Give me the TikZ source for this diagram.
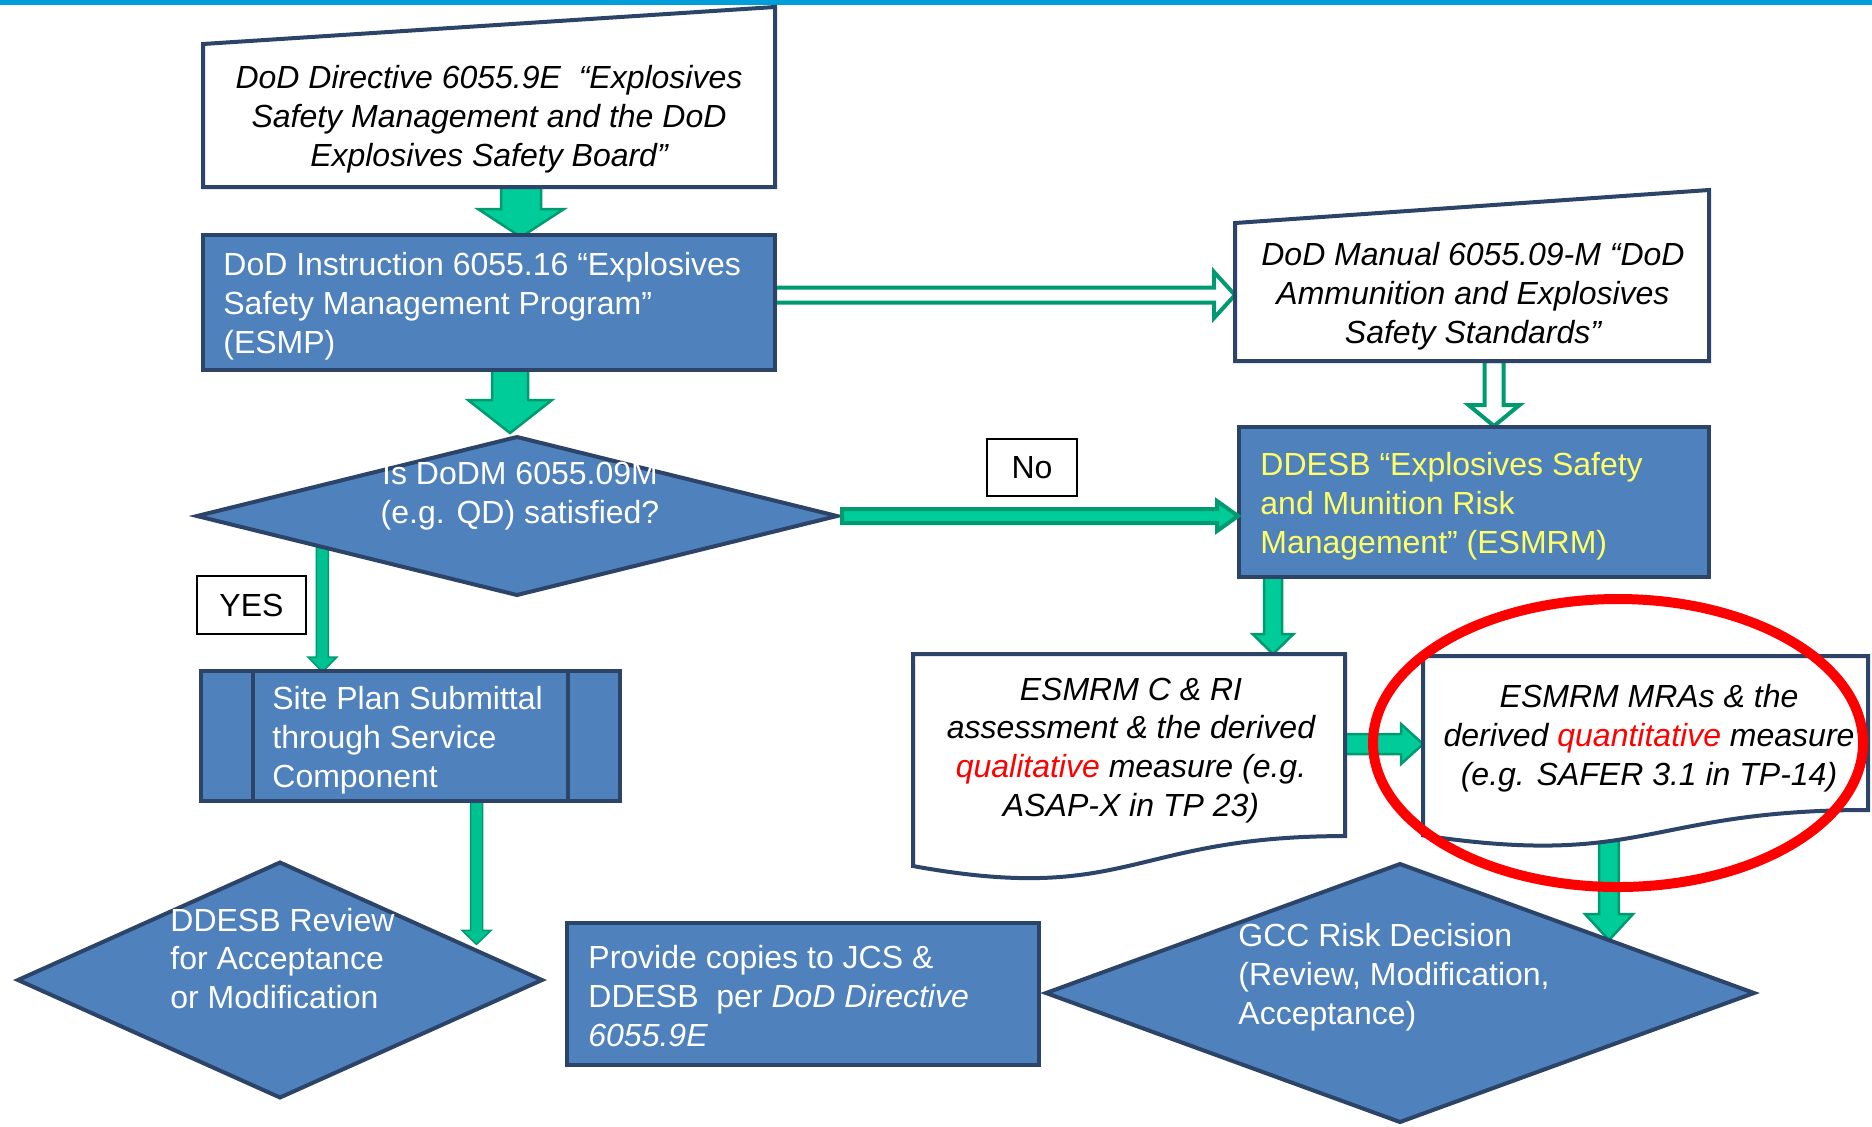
\documentclass[tikz,border=0pt]{standalone}
\usepackage{fontspec}
\setmainfont{Liberation Sans}
\usetikzlibrary{shapes.geometric,calc,backgrounds}
\definecolor{boxblue}{HTML}{4F81BD}
\definecolor{edge}{HTML}{2B4468}
\definecolor{gfill}{HTML}{00CC99}
\definecolor{gline}{HTML}{009A70}
\definecolor{ytext}{HTML}{FFFF66}
\definecolor{topblue}{HTML}{009FDA}
% vertical (downward) block arrow: style, start, tip, shaft half, head half, head length
\newcommand\vblock[6]{\path[#1] let \p1=#2, \p2=#3 in
  (\x1-#4,\y1) -- (\x1+#4,\y1) -- (\x1+#4,\y2+#6) -- (\x1+#5,\y2+#6) -- (\x1,\y2)
  -- (\x1-#5,\y2+#6) -- (\x1-#4,\y2+#6) -- cycle;}
% horizontal (rightward) block arrow
\newcommand\hblock[6]{\path[#1] let \p1=#2, \p2=#3 in
  (\x1,\y1+#4) -- (\x2-#6,\y1+#4) -- (\x2-#6,\y1+#5) -- (\x2,\y1) -- (\x2-#6,\y1-#5)
  -- (\x2-#6,\y1-#4) -- (\x1,\y1-#4) -- cycle;}
\begin{document}
\begin{tikzpicture}[x=0.5pt,y=-0.5pt,
  ghost/.style={rectangle,inner sep=0,outer sep=0},
  bluebox/.style={rectangle,inner sep=0,outer sep=0,fill=boxblue,draw=edge,line width=2pt},
  dia/.style={diamond,inner sep=0,outer sep=0,fill=boxblue,draw=edge,line width=2pt,line join=miter},
  whitebox/.style={fill=white,draw=edge,line width=2pt,line join=miter},
  edgeline/.style={draw=edge,line width=2pt},
  tag/.style={rectangle,draw=black,line width=0.75pt,fill=white,inner sep=0,font=\fontsize{16}{19.4}\selectfont},
  txt/.style={inner sep=0,font=\fontsize{16}{19.4}\selectfont},
  itxt/.style={inner sep=0,font=\fontsize{16}{19.4}\selectfont\itshape},
  garrow/.style={fill=gfill,draw=gline,line width=1.25pt,line join=miter},
  garrowthin/.style={fill=gfill!80!gline,draw=gline,line width=0.75pt,line join=miter},
  harrow/.style={fill=white,draw=gline,line width=2pt,line join=miter}]
\useasboundingbox (0,0) rectangle (1872,1126);

% ---- shapes ----
\node[ghost,minimum width=286pt,minimum height=90pt] (dir) at (489,97) {};
\path[whitebox] (dir.south west) -- ($(dir.south west)+(0,-143)$) -- (dir.north east) -- (dir.south east) -- cycle;
\node[bluebox,minimum width=286pt,minimum height=67.5pt] (inst) at (489,302.5) {};
\node[dia,minimum width=320pt,minimum height=79pt] (q) at (517,516) {};
\node[ghost,minimum width=237pt,minimum height=85.5pt] (man) at (1472,275.5) {};
\path[whitebox] (man.south west) -- ($(man.south west)+(0,-138)$) -- (man.north east) -- (man.south east) -- cycle;
\node[bluebox,minimum width=235pt,minimum height=75pt] (esmrm) at (1474,502) {};
\node[tag,minimum width=45pt,minimum height=28.5pt] (no) at (1032,467.5) {No};
\node[tag,minimum width=54.5pt,minimum height=29pt] (yes) at (251.5,605) {YES};
\node[bluebox,minimum width=209.5pt,minimum height=65pt] (site) at (410.5,736) {};
\draw[edgeline] ($(site.north west)+(52,0)$) -- ($(site.south west)+(52,0)$);
\draw[edgeline] ($(site.north east)+(-52,0)$) -- ($(site.south east)+(-52,0)$);
\node[dia,minimum width=262pt,minimum height=117.5pt] (rev) at (280,980) {};
\node[bluebox,minimum width=236pt,minimum height=71pt] (prov) at (803,994) {};
\node[dia,minimum width=354pt,minimum height=129pt] (gcc) at (1400,993) {};
\node[ghost,minimum width=216pt,minimum height=113.5pt] (doc1) at (1129,767.5) {};
\path[whitebox] (doc1.north west) -- (doc1.north east) -- ($(doc1.north east)!0.802!(doc1.south east)$)
  .. controls ($(doc1.north)!0.802!(doc1.south)$) and ($(doc1.north)!1.1075!(doc1.south)$) ..
  ($(doc1.north west)!0.934!(doc1.south west)$) -- cycle;
\node[ghost,minimum width=222.5pt,minimum height=96pt] (doc2) at (1645.5,752) {};
\path[whitebox] (doc2.north west) -- (doc2.north east) -- ($(doc2.north east)!0.802!(doc2.south east)$)
  .. controls ($(doc2.north)!0.802!(doc2.south)$) and ($(doc2.north)!1.1075!(doc2.south)$) ..
  ($(doc2.north west)!0.934!(doc2.south west)$) -- cycle;

% ---- connectors (behind shapes) ----
\begin{scope}[on background layer]
\fill[white] (0,0) rectangle (1872,1126);
\fill[topblue] (0,0) rectangle (1872,5);
\vblock{garrow}{($(dir.south)+(32,0)$)}{($(inst.north)+(32,2)$)}{10pt}{21.5pt}{14pt}
\vblock{garrow}{($(inst.south)+(21,0)$)}{($(q.north)+(-7,-4)$)}{9pt}{21pt}{16.5pt}
\hblock{harrow}{($(inst.east)+(0,-7.5)$)}{(man.west)}{3.75pt}{11.5pt}{10.5pt}
\vblock{harrow}{($(man.south)+(22,0)$)}{($(esmrm.north)+(20,-1)$)}{4.75pt}{12.75pt}{10.5pt}
\end{scope}
\hblock{garrow,line width=2pt}{($(q.east)+(5,0)$)}{($(esmrm.west)+(-1,0)$)}{3.5pt}{7.5pt}{10.5pt}
\begin{scope}[on background layer]
\vblock{garrowthin}{($(q.west)!0.392!(q.south)$)}{($(site.north)+(0,1)$)}{3pt}{7.25pt}{7.5pt}
\vblock{garrowthin}{($(site.south)+(66,0)$)}{($(rev.north)!0.748!(rev.east)+(0,-6)$)}{3pt}{7.25pt}{7pt}
\vblock{garrow}{($(esmrm.south)+(-201,0)$)}{(doc1.north)}{4.5pt}{10.25pt}{10pt}
\hblock{garrow}{($(doc1.east)+(0,-23.5)$)}{(doc2.west)}{5pt}{10pt}{11pt}
\vblock{garrow}{($(doc2.south)+(-36.5,-7)$)}{($(gcc.north)!0.590!(gcc.east)$)}{4.9pt}{12pt}{13pt}
\end{scope}

% ---- texts ----
\node[itxt,align=center] (tdir) at (489,119.5) {DoD Directive 6055.9E~~“Explosives\\Safety Management and the DoD\\Explosives Safety Board”};
\node[txt,text=white,align=left,anchor=west] (tinst) at (223,306) {DoD Instruction 6055.16 “Explosives\\Safety Management Program”\\(ESMP)};
\node[txt,text=white,align=center] (tq) at (520,496.5) {Is DoDM 6055.09M\\(e.g. QD) satisfied?};
\node[itxt,align=center] (tman) at (1473,296.5) {DoD Manual 6055.09-M “DoD\\Ammunition and Explosives\\Safety Standards”};
\node[txt,text=ytext,align=left,anchor=west] (tesmrm) at (1260,506.5) {DDESB “Explosives Safety\\and Munition Risk\\Management” (ESMRM)};
\node[txt,text=white,align=left,anchor=west] (tsite) at (272,740) {Site Plan Submittal\\through Service\\Component};
\node[txt,text=white,align=left,anchor=west] (trev) at (170,958.5) {DDESB Review\\for Acceptance\\or Modification};
\node[txt,text=white,align=left,anchor=west] (tprov) at (588,996) {Provide copies to JCS \&\\DDESB~~per \textit{DoD Directive}\\\textit{6055.9E}};
\node[txt,text=white,align=left,anchor=west] (tgcc) at (1238,977) {GCC Risk Decision\\(Review, Modification,\\Acceptance)};
\node[itxt,align=center] (tdoc1) at (1131,750.5) {ESMRM C \& RI\\assessment \& the derived\\\textcolor{red}{qualitative} measure (e.g.\\ASAP-X in TP 23)};
\node[itxt,align=center] (tdoc2) at (1649,738) {ESMRM MRAs \& the\\derived \textcolor{red}{quantitative} measure\\(e.g. SAFER 3.1 in TP-14)};

% ---- highlight ring ----
\draw[red,line width=5pt] (1618,743) ellipse [x radius=122.5pt,y radius=72pt];
\end{tikzpicture}
\end{document}
